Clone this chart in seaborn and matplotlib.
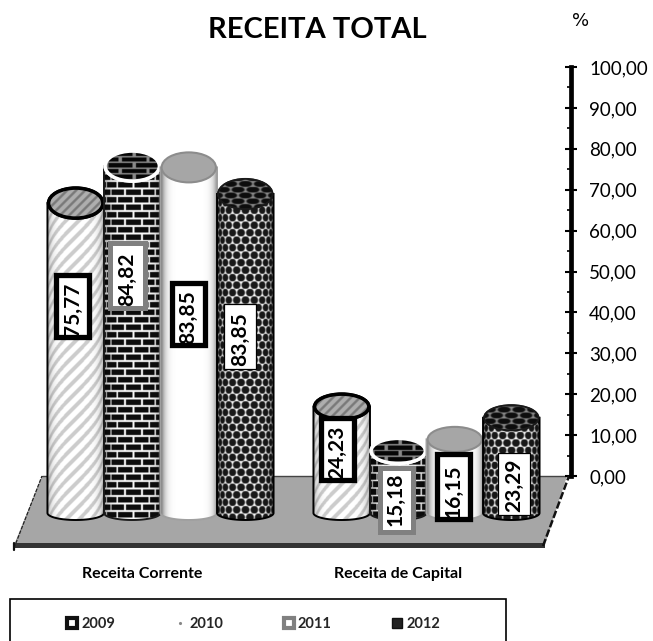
import numpy as np
import pandas as pd
import matplotlib
matplotlib.use("Agg")
import matplotlib.pyplot as plt
import seaborn as sns
from matplotlib.patches import Polygon, Rectangle, Ellipse
from matplotlib.path import Path
from matplotlib.lines import Line2D

# ---- data ----
categories = ["Receita Corrente", "Receita de Capital"]
years = ["2009", "2010", "2011", "2012"]
printed_2009 = [75.77, 24.23]
printed_2010 = [84.82, 15.18]
printed_2011 = [83.85, 16.15]
printed_2012 = [83.85, 23.29]
# drawn cylinder heights, as measured (they differ a little from the printed labels)
drawn_2009 = [75.77, 26.0]
drawn_2010 = [84.82, 15.18]
drawn_2011 = [84.5, 18.0]
drawn_2012 = [78.0, 23.29]
y_ticks = [0, 10, 20, 30, 40, 50, 60, 70, 80, 90, 100]

# ---- style and layout ----
W, H = 653, 641
X0, SX = 160.5, 266.0      # px of category 0, px per category
Y0, SY = 476.0, 4.09       # px of value 0, px per value unit
BASE_PX = 513.0
AX_TOP, AX_BOT, AX_RIGHT = 67.0, 548.0, 571.0
FONT = "Lato"

sns.set_theme(style="white")
plt.rcParams["font.family"] = [FONT, "DejaVu Sans"]

def dx(px):
    return (px - X0) / SX
def dy(py):
    return (Y0 - py) / SY

fig = plt.figure(figsize=(W / 100, H / 100), dpi=100, facecolor="white")
ax = fig.add_axes([0, 1 - AX_BOT / H, AX_RIGHT / W, (AX_BOT - AX_TOP) / H])

df = pd.DataFrame({
    "categoria": categories * 4,
    "ano": np.repeat(years, 2),
    "valor": drawn_2009 + drawn_2010 + drawn_2011 + drawn_2012,
})
sns.barplot(data=df, x="categoria", y="valor", hue="ano", order=categories, hue_order=years,
            palette=["#ffffff", "#1a1a1a", "#f0f0f0", "#303030"], width=0.85, gap=0,
            bottom=dy(BASE_PX), legend=False, ax=ax, linewidth=0, zorder=2, errorbar=None)

# floor
floor = Polygon([(dx(42), dy(476)), (dx(567), dy(476)), (dx(545), dy(545)), (dx(14), dy(545))],
                closed=True, facecolor="#a6a6a6", edgecolor="none", zorder=0, clip_on=False)
ax.add_patch(floor)
ax.plot([dx(42), dx(567)], [dy(476), dy(476)], color="#444444", lw=1, zorder=0.5, clip_on=False)
ax.add_patch(Rectangle((dx(14), dy(548)), dx(545) - dx(14), dy(543) - dy(548), facecolor="#333333",
                       edgecolor="none", zorder=0.6, clip_on=False))
ax.plot([dx(14), dx(42)], [dy(548), dy(476)], color="#222222", lw=0.9, ls=(0, (3, 1)), zorder=0.7, clip_on=False)
ax.plot([dx(543), dx(569)], [dy(546), dy(476)], color="#111111", lw=1.8, ls=(0, (3, 1)), zorder=0.7, clip_on=False)
ax.plot([dx(14), dx(14)], [dy(550), dy(543)], color="#111111", lw=1.6, zorder=0.7, clip_on=False)


def texture(kind, X, Y, R):
    """Grey level of a fill pattern wrapped round a cylinder (X, Y in px)."""
    u = R * np.arcsin(np.clip(X / R, -1, 1))
    if kind == "2009":
        v = np.where(((u + Y) / 13.0) % 1 < 0.42, 0.80, 1.0)
        return v
    if kind == "2010":
        row = np.floor(Y / 7.5)
        uu = u + (row % 2) * 8.5
        mortar = ((Y / 7.5) % 1 < 0.24) | ((uu / 17.0) % 1 < 0.12)
        return np.where(mortar, 0.97, 0.05)
    if kind == "2011":
        return np.ones_like(X)
    # 2012: staggered dark dots
    row = np.round(Y / 7.5)
    uu = u + (row % 2) * 4.5
    du = uu - np.round(uu / 9.0) * 9.0
    d = np.hypot(du, Y - row * 7.5)
    return 0.10 + 0.88 * np.clip((d - 3.4) / 1.1, 0, 1)


def shade(kind, X, R):
    t = np.abs(X / R)
    if kind == "2009":
        return 1 - 0.30 * t ** 6
    if kind == "2010":
        return 1 - 0.35 * t ** 6
    if kind == "2011":
        return 1 - 0.55 * t ** 7
    return 1 - 0.45 * t ** 5


CAP_FILL = {"2009": "#9a9a9a", "2010": "#1a1a1a", "2011": "#a6a6a6", "2012": "#2a2a2a"}
CAP_EDGE = {"2009": "#000000", "2010": "#ffffff", "2011": "#8c8c8c", "2012": "#1a1a1a"}
SIDE_EDGE = {"2009": "#000000", "2010": "#1a1a1a", "2011": "#a0a0a0", "2012": "#000000"}
CAP_H = [30.0, 25.0]      # px height of the top ellipse per category
FOOT_H = 14.0
z = 3.0
for year, cont in zip(years, ax.containers):
    for cat_i, bar in enumerate(cont):
        x0 = bar.get_x()
        wd = bar.get_width()
        top = bar.get_y() + bar.get_height()
        cx_px = X0 + (x0 + wd / 2) * SX
        R = wd * SX / 2
        top_px = Y0 - top * SY
        t = np.linspace(np.pi, 0, 41)
        foot_x = cx_px + R * np.cos(t)
        foot_y = BASE_PX + FOOT_H / 2 * np.sin(t)
        verts = [(dx(a), dy(b)) for a, b in zip(foot_x, foot_y)]
        verts += [(dx(cx_px + R), dy(top_px)), (dx(cx_px - R), dy(top_px)), verts[0]]
        body = Path(verts, closed=True)
        xs = np.arange(cx_px - R, cx_px + R, 0.5)
        ys = np.arange(top_px, BASE_PX + FOOT_H / 2, 0.5)
        X, Y = np.meshgrid(xs - cx_px, ys)
        img = texture(year, X, Y, R) * shade(year, X, R)
        im = ax.imshow(img, cmap="gray", vmin=0, vmax=1, aspect="auto", interpolation="bilinear",
                       extent=(dx(xs[0]), dx(xs[-1]), dy(ys[-1]), dy(ys[0])), zorder=z)
        im.set_clip_path(body, ax.transData)
        ax.add_patch(Polygon(verts, closed=True, facecolor="none", edgecolor=SIDE_EDGE[year],
                             lw=1.4, zorder=z + 0.1))
        cap = Ellipse((dx(cx_px), dy(top_px)), wd * 0.96, CAP_H[cat_i] / SY, facecolor=CAP_FILL[year],
                      edgecolor=CAP_EDGE[year], lw=2.5 if year in ("2009", "2010") else 1.5, zorder=z + 0.2)
        ax.add_patch(cap)
        if year != "2011":
            ch = CAP_H[cat_i]
            xs2 = np.arange(cx_px - R, cx_px + R, 0.5)
            ys2 = np.arange(top_px - ch / 2, top_px + ch / 2, 0.5)
            X2, Y2 = np.meshgrid(xs2 - cx_px, ys2)
            if year == "2009":
                tex2 = np.where(((X2 + Y2) / 9.0) % 1 < 0.4, 0.48, 0.68)
            else:
                tex2 = texture(year, X2 * 0.6, Y2 * 1.3, R) * 0.55
            im2 = ax.imshow(tex2, cmap="gray", vmin=0, vmax=1, aspect="auto", interpolation="bilinear",
                            extent=(dx(xs2[0]), dx(xs2[-1]), dy(ys2[-1]), dy(ys2[0])), zorder=z + 0.25)
            im2.set_clip_path(cap)
            rim = Ellipse((dx(cx_px), dy(top_px)), wd * 0.96, ch / SY, facecolor="none",
                          edgecolor=CAP_EDGE[year], lw=2.5 if year != "2012" else 1.2, zorder=z + 0.3)
            ax.add_patch(rim)
        z += 1

# value labels: value -> printed text, box position in px
printed = [printed_2009, printed_2010, printed_2011, printed_2012]
BOXES = [
    [(53, 272, 92, 340), (318, 415, 357, 483)],
    [(107, 240, 147, 310), (377, 465, 415, 534)],
    [(169, 280, 208, 348), (434, 451, 473, 522)],
    [(223, 303, 257, 370), (497, 452, 531, 516)],
]
BOX_EDGE = ["#000000", "#808080", "#000000", "#000000"]
BOX_LW = [3.8, 3.6, 3.8, 0.9]
for s, year in enumerate(years):
    for c in range(2):
        l, t_, r, b = BOXES[s][c]
        inset = BOX_LW[s] * 100 / 72 / 2
        ax.add_patch(Rectangle((dx(l + inset), dy(b - inset)), (r - l - 2 * inset) / SX, (b - t_ - 2 * inset) / SY,
                               facecolor="white", edgecolor=BOX_EDGE[s], lw=BOX_LW[s], zorder=40, clip_on=False))
        txt = f"{printed[s][c]:.2f}".replace(".", ",")
        shift = 8 if (s, c) == (1, 1) else 4
        ax.text(dx((l + r) / 2), dy(b - shift), txt, rotation=90, ha="center", va="bottom",
                fontsize=15, fontweight="bold", color="black", zorder=41, clip_on=False)

# axis
ax.set_xlim(dx(0), dx(AX_RIGHT))
ax.set_ylim(dy(AX_BOT), dy(AX_TOP))
ax.set_xlabel("")
ax.set_ylabel("")
ax.patch.set_alpha(0)
for name in ("left", "top", "bottom"):
    ax.spines[name].set_visible(False)
ax.spines["right"].set_visible(True)
ax.spines["right"].set_bounds(0, 100)
ax.spines["right"].set_linewidth(3.4)
ax.spines["right"].set_color("black")
ax.yaxis.tick_right()
ax.set_yticks(y_ticks)
ax.set_yticklabels([f"{v:.2f}".replace(".", ",") for v in y_ticks], fontsize=13.5, color="black")
ax.set_yticks(np.arange(5, 100, 10), minor=True)
ax.tick_params(axis="y", which="major", direction="inout", length=8, width=1.5, pad=9, color="black", right=True)
ax.tick_params(axis="y", which="minor", direction="in", length=3, width=1.2, color="black", right=True)
ax.set_xticks([dx(142), dx(398.5)])
ax.set_xticklabels(categories, fontsize=11.5, fontweight="bold", color="black")
ax.tick_params(axis="x", length=0, pad=14)

fig.text(317.5 / W, 1 - 30 / H, "RECEITA TOTAL", ha="center", va="center", fontsize=21, fontweight="bold", color="black")
fig.text(581 / W, 1 - 21 / H, "%", ha="center", va="center", fontsize=13, family="DejaVu Sans", color="black")

# legend
fig.add_artist(Rectangle((9.5 / W, 1 - 645 / H), 496.5 / W, 46 / H, transform=fig.transFigure, facecolor="none",
                         edgecolor="black", lw=1.2))
handles = [
    Line2D([], [], ls="none", marker="s", ms=6.5, mfc="white", mec="#111111", mew=3),
    Line2D([], [], ls="none", marker=".", ms=2.5, mfc="#888888", mec="#888888"),
    Line2D([], [], ls="none", marker="s", ms=6.5, mfc="white", mec="#808080", mew=3),
    Line2D([], [], ls="none", marker="s", ms=7.5, mfc="#222222", mec="#111111", mew=1),
]
fig.legend(handles, years, ncol=4, frameon=False, loc="center left", bbox_to_anchor=(64 / W, 1 - 624.5 / H),
           borderaxespad=0, borderpad=0, handlelength=1.1, handletextpad=0.1, columnspacing=3.9,
           prop={"family": FONT, "weight": "bold", "size": 10.5})

fig.savefig("out.png", dpi=100, facecolor="white")
